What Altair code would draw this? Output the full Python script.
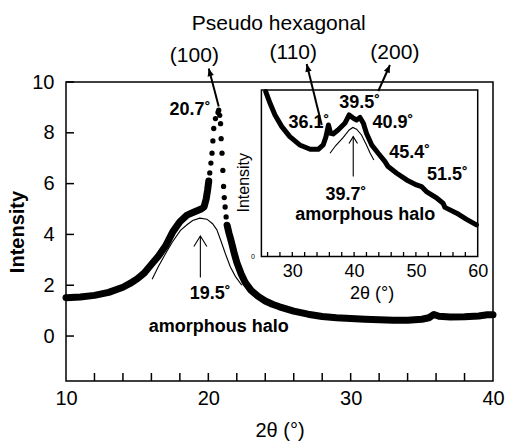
import math
import altair as alt
import pandas as pd

# ---------------- data ----------------
# main XRD pattern (2theta, intensity)
main_x = [10.0, 11.0, 12.0, 13.0, 14.0, 14.5, 15.0, 15.5, 16.0, 16.5, 17.0, 17.5, 18.0, 18.5, 19.0, 19.5, 19.7, 19.85, 19.95,
          20.03, 20.10, 20.18, 20.26, 20.32, 20.38, 20.50, 20.68, 20.73, 20.80, 20.86, 20.90, 20.96, 21.02, 21.07, 21.12, 21.18, 21.25, 21.32,
          21.45, 21.6, 21.8, 22.0, 22.3, 22.6, 23.0, 23.5, 24.0, 24.5, 25.0, 26.0, 27.0, 28.0, 29.0, 30.0, 31.0, 32.0, 33.0, 34.0,
          35.0, 35.5, 35.85, 36.2, 37.0, 38.0, 39.0, 39.6, 40.0]
main_y = [1.51, 1.54, 1.60, 1.72, 1.92, 2.07, 2.25, 2.48, 2.82, 3.15, 3.55, 4.10, 4.50, 4.76, 4.88, 5.00, 5.08, 5.40, 5.75,
          6.10, 6.42, 6.81, 7.20, 7.68, 8.17, 8.56, 8.80, 8.89, 8.69, 8.36, 7.77, 7.20, 6.52, 5.89, 5.45, 5.08, 4.69, 4.36,
          4.05, 3.75, 3.30, 2.90, 2.45, 2.10, 1.80, 1.56, 1.38, 1.25, 1.15, 0.98, 0.86, 0.77, 0.72, 0.69, 0.66, 0.64, 0.62, 0.62,
          0.66, 0.72, 0.85, 0.78, 0.75, 0.76, 0.79, 0.84, 0.84]
peak_start, peak_end = 20.03, 21.32   # isolated dots between these angles

# amorphous halo (main)
halo_x = [16.05, 16.5, 17.1, 17.5, 18.04, 18.5, 18.9, 19.4, 19.9, 20.3, 20.6, 20.85, 21.2, 21.55, 21.9, 22.35]
halo_y = [2.24, 2.75, 3.35, 3.72, 4.16, 4.38, 4.55, 4.64, 4.60, 4.42, 4.18, 3.80, 3.24, 2.72, 2.35, 2.00]

# inset pattern (2theta, arbitrary intensity 0-100)
inset_x = [25.7, 26.4, 27.2, 28.3, 29.6, 31.2, 32.9, 34.2, 35.0, 35.45, 35.85, 36.2, 36.6, 37.4, 38.5, 39.2, 39.9, 40.4,
           40.95, 41.5, 42.0, 42.85, 43.9, 45.0, 45.5, 46.9, 48.5, 50.1, 50.9, 51.7, 53.4, 54.4, 54.7, 56.6, 58.2, 59.8]
inset_y = [99, 92, 85, 78, 72, 67, 64.4, 64.4, 67, 72, 79, 74, 73.6, 76, 80, 85, 83, 82,
           83.5, 80, 74, 67, 62, 57, 54, 50, 46, 43, 42, 39, 35, 32, 29.5, 26, 22.3, 19]
inset_halo_x = [36.1, 37.0, 38.25, 39.2, 39.8, 40.4, 41.2, 42.0, 42.6, 43.2]
inset_halo_y = [62, 66.5, 71.5, 76, 77.5, 76.5, 73, 67, 62, 58]

# axes
main_x_domain = [10, 40]
main_y_domain = [-1.77, 10]
main_x_labels = [10, 20, 30, 40]
main_x_ticks = list(range(12, 40, 2))
main_y_ticks = [0, 2, 4, 6, 8, 10]
inset_x_range = [25, 60]
inset_y_range = [0, 100]
inset_x_labels = [30, 40, 50, 60]
inset_x_ticks = list(range(26, 60, 2))
inset_y_labels = [0]

# annotations (main coordinates)
main_bold_text = ["20.7˚", "19.5˚", "amorphous halo"]
main_bold_x = [18.72, 20.13, 20.73]
main_bold_y = [8.89, 1.67, 0.35]
main_reg_text = ["Pseudo hexagonal", "(100)"]
main_reg_x = [24.95, 19.02]
main_reg_y = [12.3, 11.01]
main_arrow = dict(x=[20.73], y=[9.04], x2=[20.03], y2=[10.53])
main_halo_arrow = dict(x=[19.44], y=[2.3], y2=[3.94])

# annotations (inset coordinates)
inset_bold_text = ["36.1˚", "39.5˚", "40.9˚", "45.4˚", "51.5˚", "39.7˚", "amorphous halo"]
inset_bold_x = [32.7, 40.9, 46.3, 49.0, 55.1, 38.7, 41.8]
inset_bold_y = [80, 92, 80.4, 62, 49, 37, 25]
inset_reg_text = ["(110)", "(200)"]
inset_reg_x = [30.16, 46.6]
inset_reg_y = [122, 122]
inset_arrow = dict(x=[34.76, 43.92], y=[79, 99.4], x2=[32.33, 45.8], y2=[115.6, 115])
inset_halo_arrow = dict(x=[39.86], y=[48], y2=[72])

# ---------------- layout (pixels) ----------------
W, H = 427, 299
PAD_L, PAD_T = 66, 82
IN_L, IN_R, IN_T, IN_B = 195.4, 411.7, 8.0, 174.5   # inset box inside plot area
MAIN_TICK, INSET_TICK = 8, 4.5

sx_main = W / (main_x_domain[1] - main_x_domain[0])
sy_main = H / (main_y_domain[1] - main_y_domain[0])
ux = (inset_x_range[1] - inset_x_range[0]) / (IN_R - IN_L)
uy = (inset_y_range[1] - inset_y_range[0]) / (IN_B - IN_T)
inset_x_domain = [inset_x_range[0] - IN_L * ux, inset_x_range[1] + (W - IN_R) * ux]
inset_y_domain = [inset_y_range[0] - (H - IN_B) * uy, inset_y_range[1] + IN_T * uy]
sx_in, sy_in = 1 / ux, 1 / uy

FONT = "Liberation Sans"


def head_angle(x1, y1, x2, y2, sx, sy):
    dx = (x2 - x1) * sx
    dy = -(y2 - y1) * sy
    return math.degrees(math.atan2(dx, -dy)) % 360


def arrow_df(a, sx, sy):
    df = pd.DataFrame(a)
    df["angle"] = [head_angle(r.x, r.y, r.x2, r.y2, sx, sy) for r in df.itertuples()]
    return df


TRI = "M0,0L-0.42,1L0.42,1Z"
CHEV = "M-0.62,1L0,0L0.62,1"

# ---------------- main panel ----------------
mdf = pd.DataFrame({"x": main_x, "y": main_y})
mdf["seg"] = ["a" if v <= peak_start else ("b" if v >= peak_end else "peak") for v in main_x]

xs_m = alt.Scale(domain=main_x_domain, nice=False, zero=False)
ys_m = alt.Scale(domain=main_y_domain, nice=False, zero=False)


def MX(f="x", **kw):
    return alt.X(f + ":Q", scale=xs_m, axis=None, **kw)


def MY(f="y", **kw):
    return alt.Y(f + ":Q", scale=ys_m, axis=None, **kw)


main_line = alt.Chart(mdf).mark_line(color="black", strokeWidth=7, strokeCap="round", strokeJoin="round").encode(
    x=alt.X("x:Q", scale=xs_m, axis=alt.Axis(orient="bottom", values=main_x_labels, ticks=False, domain=False, grid=False,
                                             labelFlush=False, labelFontSize=20, labelPadding=7, labelColor="black",
                                             title="2θ (°)", titleFontSize=20, titleFontWeight="normal",
                                             titleColor="black", titlePadding=12)),
    y=alt.Y("y:Q", scale=ys_m, axis=alt.Axis(orient="left", values=main_y_ticks, ticks=False, domain=False, grid=False,
                                             labelFlush=False, labelFontSize=20, labelPadding=12, labelColor="black",
                                             title="Intensity", titleFontSize=20, titleFontWeight="bold",
                                             titleColor="black", titlePadding=4)),
    detail="seg:N",
).transform_filter(alt.datum.seg != "peak")

main_pts = alt.Chart(mdf).mark_circle(color="black", size=28, opacity=1).encode(x=MX(), y=MY())

# inward tick marks of the main frame, placed through the main scales
main_xtick = alt.Chart(pd.DataFrame({"x": main_x_ticks})).mark_rule(color="black", strokeWidth=1.5).encode(
    x=MX(), y=alt.value(H), y2=alt.value(H - MAIN_TICK))
main_ytick = alt.Chart(pd.DataFrame({"y": main_y_ticks})).mark_rule(color="black", strokeWidth=1.5).encode(
    y=MY(), x=alt.value(0), x2=alt.value(MAIN_TICK))

main_halo = alt.Chart(pd.DataFrame({"x": halo_x, "y": halo_y})).mark_line(color="black", strokeWidth=1.1).encode(
    x=MX(), y=MY())

main_bold = alt.Chart(pd.DataFrame({"t": main_bold_text, "x": main_bold_x, "y": main_bold_y})).mark_text(
    font=FONT, fontSize=18, fontWeight="bold", align="center", baseline="middle", color="black", clip=False).encode(
    x=MX(), y=MY(), text="t:N")

main_reg = alt.Chart(pd.DataFrame({"t": main_reg_text, "x": main_reg_x, "y": main_reg_y})).mark_text(
    font=FONT, fontSize=21, align="center", baseline="middle", color="black", clip=False).encode(
    x=MX(), y=MY(), text="t:N")

madf = arrow_df(main_arrow, sx_main, sy_main)
main_arrow_line = alt.Chart(madf).mark_rule(color="black", strokeWidth=2, clip=False).encode(
    x=MX(), y=MY(), x2="x2:Q", y2="y2:Q")
main_arrow_head = alt.Chart(madf).mark_point(shape=TRI, filled=True, color="black", size=230, opacity=1, clip=False).encode(
    x=MX("x2"), y=MY("y2"), angle=alt.Angle("angle:Q", scale=None))

mhdf = pd.DataFrame(main_halo_arrow)
main_halo_line = alt.Chart(mhdf).mark_rule(color="black", strokeWidth=1.1).encode(x=MX(), y=MY(), y2="y2:Q")
main_halo_head = alt.Chart(mhdf).mark_point(shape=CHEV, filled=False, color="black", strokeWidth=1.1, size=440,
                                            opacity=1).encode(x=MX(), y=MY("y2"))

main = alt.layer(main_line, main_pts, main_xtick, main_ytick, main_halo, main_halo_line, main_halo_head,
                 main_arrow_line, main_arrow_head, main_bold, main_reg).resolve_axis(x="independent", y="independent")

# ---------------- inset panel ----------------
xs_i = alt.Scale(domain=inset_x_domain, nice=False, zero=False)
ys_i = alt.Scale(domain=inset_y_domain, nice=False, zero=False)


def IX(f="x", **kw):
    return alt.X(f + ":Q", scale=xs_i, axis=None, **kw)


def IY(f="y", **kw):
    return alt.Y(f + ":Q", scale=ys_i, axis=None, **kw)


frame = alt.Chart(pd.DataFrame({"x": [inset_x_range[0]], "x2": [inset_x_range[1]],
                                "y": [inset_y_range[0]], "y2": [inset_y_range[1]]})).mark_rect(
    fillOpacity=0, stroke="black", strokeWidth=1.5).encode(x=IX(), x2="x2:Q", y=IY(), y2="y2:Q")

inset_xtick = alt.Chart(pd.DataFrame({"x": inset_x_ticks})).mark_rule(color="black", strokeWidth=1.3).encode(
    x=IX(), y=alt.value(IN_B), y2=alt.value(IN_B - INSET_TICK))

inset_line = alt.Chart(pd.DataFrame({"x": inset_x, "y": inset_y})).mark_line(
    color="black", strokeWidth=5, strokeCap="round", strokeJoin="round").encode(
    x=alt.X("x:Q", scale=xs_i, axis=alt.Axis(orient="bottom", offset=-(H - IN_B), values=inset_x_labels, ticks=False,
                                             domain=False, grid=False, labelFlush=False, labelFontSize=18,
                                             labelPadding=6, labelColor="black", title="2θ (°)", titleFontSize=18,
                                             titleFontWeight="normal", titleColor="black", titlePadding=4,
                                             titleX=(IN_L + IN_R) / 2 + 2)),
    y=alt.Y("y:Q", scale=ys_i, axis=alt.Axis(orient="left", offset=-IN_L, values=inset_y_labels, ticks=False,
                                             domain=False, grid=False, labelFlush=False, labelFontSize=7,
                                             labelPadding=7, labelColor="black", title="Intensity", titleFontSize=16,
                                             titleFontWeight="normal", titleColor="black", titleAngle=270,
                                             titleBaseline="alphabetic", titleAlign="center", titleX=-13,
                                             titleY=(IN_T + IN_B) / 2 + 9)),
)

inset_halo = alt.Chart(pd.DataFrame({"x": inset_halo_x, "y": inset_halo_y})).mark_line(
    color="black", strokeWidth=1.1).encode(x=IX(), y=IY())

inset_bold = alt.Chart(pd.DataFrame({"t": inset_bold_text, "x": inset_bold_x, "y": inset_bold_y})).mark_text(
    font=FONT, fontSize=18, fontWeight="bold", align="center", baseline="middle", color="black", clip=False).encode(
    x=IX(), y=IY(), text="t:N")

inset_reg = alt.Chart(pd.DataFrame({"t": inset_reg_text, "x": inset_reg_x, "y": inset_reg_y})).mark_text(
    font=FONT, fontSize=21, align="center", baseline="middle", color="black", clip=False).encode(
    x=IX(), y=IY(), text="t:N")

iadf = arrow_df(inset_arrow, sx_in, sy_in)
inset_arrow_line = alt.Chart(iadf).mark_rule(color="black", strokeWidth=2, clip=False).encode(
    x=IX(), y=IY(), x2="x2:Q", y2="y2:Q")
inset_arrow_head = alt.Chart(iadf).mark_point(shape=TRI, filled=True, color="black", size=230, opacity=1,
                                              clip=False).encode(
    x=IX("x2"), y=IY("y2"), angle=alt.Angle("angle:Q", scale=None))

ihdf = pd.DataFrame(inset_halo_arrow)
inset_halo_line = alt.Chart(ihdf).mark_rule(color="black", strokeWidth=1.1).encode(x=IX(), y=IY(), y2="y2:Q")
inset_halo_head = alt.Chart(ihdf).mark_point(shape=CHEV, filled=False, color="black", strokeWidth=1.1, size=190,
                                             opacity=1).encode(x=IX(), y=IY("y2"))

inset = alt.layer(inset_line, frame, inset_xtick, inset_halo, inset_halo_line, inset_halo_head, inset_arrow_line,
                  inset_arrow_head, inset_bold, inset_reg).resolve_axis(x="independent", y="independent")

chart = alt.layer(main, inset).resolve_scale(x="independent", y="independent").properties(
    width=W, height=H,
    autosize=alt.AutoSizeParams(type="none"),
    padding={"left": PAD_L, "top": PAD_T, "right": 505 - PAD_L - W, "bottom": 445 - PAD_T - H},
    background="white",
).configure(font=FONT).configure_view(stroke="black", strokeWidth=1.5)

chart.save("out.html", embed_options={"renderer": "svg", "actions": False})
